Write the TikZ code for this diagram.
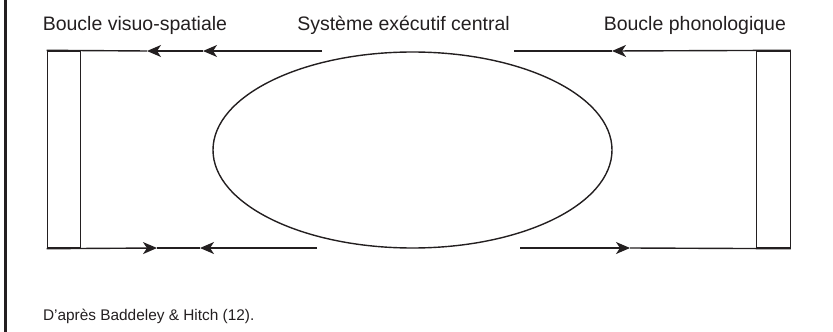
\documentclass[tikz,border=0pt]{standalone}
\usepackage{fontspec}
\setmainfont{Liberation Sans}
\usetikzlibrary{arrows.meta,shapes.geometric}
\definecolor{ink}{HTML}{231F20}
\begin{document}
\begin{tikzpicture}[x=1pt,y=-1pt,
  line/.style={draw=ink,line width=1.4pt},
  arr/.style={line,-{Stealth[length=14pt,width=12pt,inset=4pt]}},
  lab/.style={text=ink,inner sep=0pt,anchor=base west,font=\fontsize{19.5pt}{22pt}\selectfont},
  note/.style={text=ink,inner sep=0pt,anchor=base west,font=\fontsize{15.4pt}{18pt}\selectfont},
  box/.style={line,inner sep=0pt,minimum width=33.5pt,minimum height=197pt}]
\useasboundingbox (0,0) rectangle (833,332);
% left border
\coordinate (bt) at (5.5,0);
\coordinate (bb) at (5.5,332);
\draw[draw=ink,line width=2.4pt] (bt) -- (bb);
% labels
\node[lab] (l1) at (42.6,30) {Boucle visuo-spatiale};
\node[lab] (l2) at (297.1,30) {Système exécutif central};
\node[lab] (l3) at (603.6,30) {Boucle phonologique};
\node[note] (n1) at (42.8,320.5) {D’après Baddeley \& Hitch (12).};
% central ellipse
\node[ellipse,line,inner sep=0pt,minimum width=399pt,minimum height=196pt] (sec) at (412.5,150) {};
% boxes
\node[box] (vs) at (64,149.5) {};
\node[box] (pb) at (773.5,149.5) {};
% coordinates
\coordinate (tl) at (322,51);
\coordinate (a2) at (203,51);
\coordinate (a1) at (147,51);
\coordinate (bl) at (317,248);
\coordinate (b2) at (200,248);
\coordinate (b1) at (157,248);
\coordinate (tr) at (514,51);
\coordinate (t3) at (612,51);
\coordinate (br) at (520,248);
\coordinate (b3) at (630,248);
% left loop
\draw[arr] (tl) -- (a2);
\draw[arr] (a2) -- (a1);
\draw[line] (a1) -- (vs.north west);
\draw[arr] (vs.south west) -- (b1);
\draw[arr] (bl) -- (b2);
\draw[line] (b2) -- (b1);
% right loop
\draw[arr] (pb.north east) -- (t3);
\draw[line] (t3) -- (tr);
\draw[arr] (br) -- (b3);
\draw[line] (b3) -- (pb.south east);
\end{tikzpicture}
\end{document}
